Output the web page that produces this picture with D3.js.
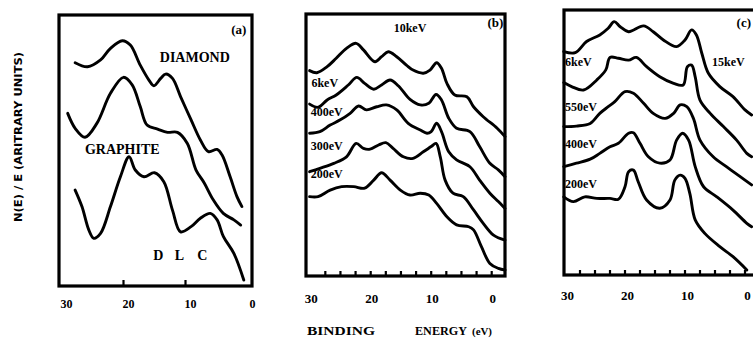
<!DOCTYPE html>
<html><head><meta charset="utf-8">
<script src="https://cdn.jsdelivr.net/npm/d3@7"></script>
<style>
html,body{margin:0;padding:0;background:#fff;overflow:hidden;}
svg{display:block;}
text{fill:#000;}
</style></head>
<body>
<script>
// ---------- Panel (a) ----------
const aDiamondE = [27.8, 25.8, 23.7, 22.1, 20.2, 18.9, 17.3, 15.9, 15.1, 14.0, 13.2, 12.1, 10.8, 9.1, 7.6, 6.3, 4.9, 4.1, 2.8, 1.7, 0.9];
const aDiamondV = [82.4, 80.9, 83.4, 87.7, 90.5, 88.9, 81.5, 76.0, 73.9, 76.6, 78.2, 76.6, 69.9, 61.3, 53.9, 49.6, 50.4, 48.3, 40.3, 33.0, 29.3];
const aGraphiteE = [29.0, 27.8, 26.2, 24.3, 22.1, 20.0, 18.6, 17.3, 16.2, 14.5, 12.9, 11.3, 9.7, 8.3, 7.0, 5.5, 3.9, 2.2, 1.1];
const aGraphiteV = [63.7, 58.2, 54.9, 60.0, 71.1, 77.0, 74.2, 66.2, 59.4, 57.9, 56.7, 56.7, 52.6, 42.8, 38.1, 31.7, 26.8, 24.4, 22.5];
const aThirdE = [27.8, 26.7, 25.6, 24.8, 23.7, 22.1, 20.5, 19.1, 18.1, 16.7, 15.0, 13.5, 12.1, 10.8, 9.1, 7.6, 6.0, 4.9, 3.9, 2.2, 0.6];
const aThirdV = [35.4, 29.3, 20.7, 17.6, 19.4, 29.3, 40.3, 47.7, 42.8, 40.3, 41.8, 38.5, 28.0, 20.0, 21.9, 25.0, 26.8, 24.4, 18.3, 12.0, 2.2];

// ---------- Panel (b) ----------
const b10keVE = [30.1, 28.9, 27.2, 25.7, 24.0, 22.4, 21.2, 19.3, 18.2, 17.1, 15.7, 14.1, 13.0, 11.3, 10.2, 9.1, 8.3, 7.4, 6.1, 4.1, 3.0, 1.4, -0.9, -2.2];
const b10keVV = [78.4, 77.6, 79.9, 83.1, 86.9, 88.8, 86.3, 81.8, 83.7, 85.6, 83.7, 80.5, 78.6, 77.4, 78.6, 81.4, 79.3, 73.5, 69.1, 68.4, 64.6, 60.8, 56.4, 53.2];
const b6keVE = [30.1, 28.7, 27.2, 25.7, 23.7, 22.3, 21.0, 19.5, 18.2, 16.8, 15.4, 13.5, 11.8, 10.4, 9.2, 8.3, 7.1, 5.8, 3.6, 2.0, 0.3, -1.1, -2.2];
const b6keVV = [65.6, 64.4, 67.2, 69.1, 72.9, 75.8, 73.5, 71.3, 72.9, 74.8, 72.5, 67.4, 65.3, 65.9, 69.3, 67.2, 60.2, 56.4, 55.1, 49.4, 43.0, 40.5, 37.9];
const b400eVE = [30.1, 28.4, 26.7, 25.1, 23.4, 22.0, 20.7, 19.0, 17.4, 15.7, 13.8, 11.8, 10.7, 10.0, 9.1, 8.3, 7.1, 5.8, 3.6, 2.0, 0.3, -1.1, -2.2];
const b400eVV = [54.5, 55.1, 57.6, 59.5, 62.1, 64.9, 63.4, 64.6, 65.3, 63.4, 58.3, 55.7, 54.5, 55.1, 58.3, 55.1, 47.4, 44.3, 41.7, 36.6, 31.6, 28.4, 25.8];
const b300eVE = [30.1, 28.4, 26.1, 24.0, 22.4, 21.2, 20.1, 18.7, 17.5, 16.3, 14.6, 13.0, 11.3, 10.0, 9.2, 8.5, 7.7, 6.4, 4.7, 3.0, 1.4, -0.3, -2.2];
const b300eVV = [39.8, 41.1, 43.0, 45.5, 50.6, 48.7, 48.4, 50.0, 50.9, 48.7, 45.5, 44.9, 47.4, 49.4, 50.6, 45.5, 36.6, 31.6, 30.3, 25.2, 20.1, 15.6, 13.7];
const b200eVE = [30.1, 28.7, 26.7, 24.8, 22.8, 21.0, 19.5, 18.2, 16.8, 15.1, 13.5, 11.8, 10.4, 9.1, 7.4, 5.8, 3.8, 3.0, 1.7, 0.3, -1.1, -2.2];
const b200eVV = [30.3, 30.3, 32.8, 34.1, 34.1, 33.5, 36.6, 39.4, 36.6, 32.8, 30.9, 31.6, 30.9, 27.7, 22.6, 19.5, 18.8, 17.6, 11.2, 4.8, 2.9, 2.3];

// ---------- Panel (c) ----------
const c15keVE = [30.2, 28.3, 26.4, 24.2, 22.8, 21.8, 20.8, 19.4, 16.9, 15.3, 13.6, 11.4, 10.0, 8.9, 8.1, 7.2, 6.1, 4.2, 2.0, 0.0, -1.1];
const c15keVV = [84.3, 83.9, 88.1, 90.6, 93.1, 95.6, 93.7, 91.8, 94.0, 91.8, 88.7, 86.2, 88.7, 92.5, 90.6, 83.7, 76.1, 71.1, 67.3, 62.3, 60.4];
const c6keVE = [30.2, 28.9, 26.9, 24.7, 23.2, 22.5, 21.1, 19.4, 18.1, 16.4, 14.2, 11.9, 10.3, 9.6, 8.9, 8.3, 7.5, 5.8, 3.6, 1.4, -0.3, -1.1];
const c6keVV = [72.6, 71.1, 69.8, 73.6, 77.4, 82.1, 81.8, 81.1, 82.1, 78.6, 74.8, 72.3, 71.7, 78.6, 79.2, 74.8, 66.0, 61.0, 56.0, 50.9, 45.9, 44.6];
const c550eVE = [30.2, 28.1, 25.8, 24.2, 22.8, 21.7, 20.0, 18.6, 16.9, 15.3, 13.3, 11.9, 10.8, 9.7, 8.6, 7.5, 5.3, 3.1, 0.8, -1.1];
const c550eVV = [56.0, 56.2, 57.2, 61.0, 63.5, 65.4, 69.2, 68.6, 64.8, 61.0, 59.1, 61.0, 64.2, 63.5, 59.1, 50.9, 44.6, 40.9, 37.1, 34.0];
const c400eVE = [30.2, 28.1, 25.8, 24.2, 22.5, 21.1, 19.4, 18.6, 17.5, 16.1, 14.2, 12.5, 11.4, 10.4, 9.4, 8.3, 6.9, 4.7, 2.0, -0.3, -1.1];
const c400eVV = [40.9, 42.2, 43.7, 45.9, 48.4, 49.7, 53.5, 53.7, 49.7, 44.6, 42.2, 43.4, 50.9, 53.5, 50.9, 40.9, 33.3, 29.5, 24.5, 19.5, 18.2];
const c200eVE = [30.2, 28.6, 26.7, 24.7, 22.5, 21.1, 20.0, 19.4, 18.6, 17.8, 16.4, 14.2, 12.5, 11.7, 10.8, 10.0, 9.2, 8.3, 6.7, 4.2, 2.0, -0.3];
const c200eVV = [29.5, 27.7, 29.5, 28.9, 28.9, 28.6, 33.3, 39.0, 39.6, 35.2, 28.3, 25.2, 28.3, 35.8, 37.7, 36.5, 30.8, 20.8, 15.7, 10.7, 6.9, 1.9];

// ---------- Axis ticks & labels ----------
const tickLabels = [30, 20, 10, 0];
const aMinorTicks = [20, 10];
const bcMinorTicks = [27.5, 25, 22.5, 20, 17.5, 15, 12.5, 10, 7.5, 5, 2.5, 0];

// ---------- Text annotations [text, E, V, anchor] ----------
const aLabels = [["DIAMOND", 8.5, 84.5, "middle"], ["GRAPHITE", 20.2, 50.2, "middle"],
                 ["D", 14.4, 11.4, "middle"], ["L", 11.0, 11.4, "middle"], ["C", 7.3, 11.4, "middle"]];
const bLabels = [["10keV", 13.5, 95.0, "middle"], ["6keV", 29.8, 74.0, "start"], ["400eV", 29.9, 62.6, "start"],
                 ["300eV", 29.9, 50.0, "start"], ["200eV", 29.9, 39.3, "start"]];
const cLabels = [["6keV", 30.0, 80.4, "start"], ["15keV", 5.5, 80.4, "start"], ["550eV", 30.0, 63.4, "start"],
                 ["400eV", 30.0, 49.8, "start"], ["200eV", 30.0, 34.7, "start"]];

const W = 753, H = 346;
const svg = d3.select("body").append("svg").attr("width", W).attr("height", H);

const serif = "'Liberation Serif', 'DejaVu Serif', serif";

function zip(E, V) { return E.map((e, i) => ({ e: e, v: V[i] })); }

const panels = [
  { name: "(a)", box: [59, 252, 15, 286], xd: [30, 0], xr: [61.5, 247.5],
    series: [zip(aDiamondE, aDiamondV), zip(aGraphiteE, aGraphiteV), zip(aThirdE, aThirdV)],
    ticks: aMinorTicks, tickLen: 6, labY: 303, labDx: 5, labFs: 12, labels: aLabels, lblFs: 14, nameE: 1.4, nameV: 94.5 },
  { name: "(b)", box: [306, 505, 14, 276], xd: [20, 0], xr: [370.7, 491.7],
    series: [zip(b10keVE, b10keVV), zip(b6keVE, b6keVV), zip(b400eVE, b400eVV), zip(b300eVE, b300eVV), zip(b200eVE, b200eVV)],
    ticks: bcMinorTicks, tickLen: 5, labY: 298, labDx: 1, labFs: 13, labels: bLabels, lblFs: 12, nameE: -0.6, nameV: 96.6 },
  { name: "(c)", box: [564, 757, 10, 275], xd: [20, 0], xr: [625, 745],
    series: [zip(c15keVE, c15keVV), zip(c6keVE, c6keVV), zip(c550eVE, c550eVV), zip(c400eVE, c400eVV), zip(c200eVE, c200eVV)],
    ticks: bcMinorTicks, tickLen: 5, labY: 295, labDx: 2.5, labFs: 13, labels: cLabels, lblFs: 12, nameE: 0.2, nameV: 95.1 }
];

panels.forEach(p => {
  const [L, R, T, B] = p.box;
  const x = d3.scaleLinear().domain(p.xd).range(p.xr);
  const y = d3.scaleLinear().domain([0, 100]).range([B, T]);
  const g = svg.append("g");

  const line = d3.line().x(d => x(d.e)).y(d => y(d.v)).curve(d3.curveCatmullRom.alpha(0.5));
  g.selectAll("path.curve").data(p.series).enter().append("path")
    .attr("class", "curve").attr("d", line)
    .attr("fill", "none").attr("stroke", "#000").attr("stroke-width", 2.9)
    .attr("stroke-linejoin", "round").attr("stroke-linecap", "round");

  // inward ticks
  g.selectAll("line.tick").data(p.ticks).enter().append("line")
    .attr("x1", d => x(d)).attr("x2", d => x(d))
    .attr("y1", B).attr("y2", B - p.tickLen)
    .attr("stroke", "#000").attr("stroke-width", 2.2);

  // frame
  g.append("rect").attr("x", L).attr("y", T).attr("width", R - L).attr("height", B - T)
    .attr("fill", "none").attr("stroke", "#000").attr("stroke-width", 3.2);

  // tick labels
  g.selectAll("text.tl").data(tickLabels).enter().append("text")
    .attr("x", d => x(d) + p.labDx).attr("y", p.labY + 4.5)
    .attr("text-anchor", "middle").attr("font-family", serif).attr("font-weight", "bold")
    .attr("font-size", p.labFs).text(d => d);

  // curve labels
  g.selectAll("text.cl").data(p.labels).enter().append("text")
    .attr("x", d => x(d[1])).attr("y", d => y(d[2]) + 4.5)
    .attr("text-anchor", d => d[3]).attr("font-family", serif).attr("font-weight", "bold")
    .attr("font-size", p.lblFs).text(d => d[0]);

  g.append("text").attr("x", x(p.nameE)).attr("y", y(p.nameV) + 4.5)
    .attr("text-anchor", "middle").attr("font-family", serif).attr("font-weight", "bold")
    .attr("font-size", 13).text(p.name);
});

// Y axis title
svg.append("text").attr("transform", "translate(22,137) rotate(-90)")
  .attr("text-anchor", "middle").attr("font-family", "'DejaVu Sans', sans-serif").attr("font-weight", "bold")
  .attr("font-size", 10.5).attr("textLength", 170).attr("lengthAdjust", "spacingAndGlyphs")
  .text("N(E) / E (ARITRARY UNITS)");

// X axis title
const xt = [["BINDING", 307, 68, 12.5], ["ENERGY", 415, 52, 12.5], ["(eV)", 472, 20, 9.5]];
svg.selectAll("text.xt").data(xt).enter().append("text")
  .attr("x", d => d[1]).attr("y", 335).attr("font-family", serif).attr("font-weight", "bold")
  .attr("font-size", d => d[3]).attr("textLength", d => d[2]).attr("lengthAdjust", "spacingAndGlyphs")
  .text(d => d[0]);
</script>
</body></html>
